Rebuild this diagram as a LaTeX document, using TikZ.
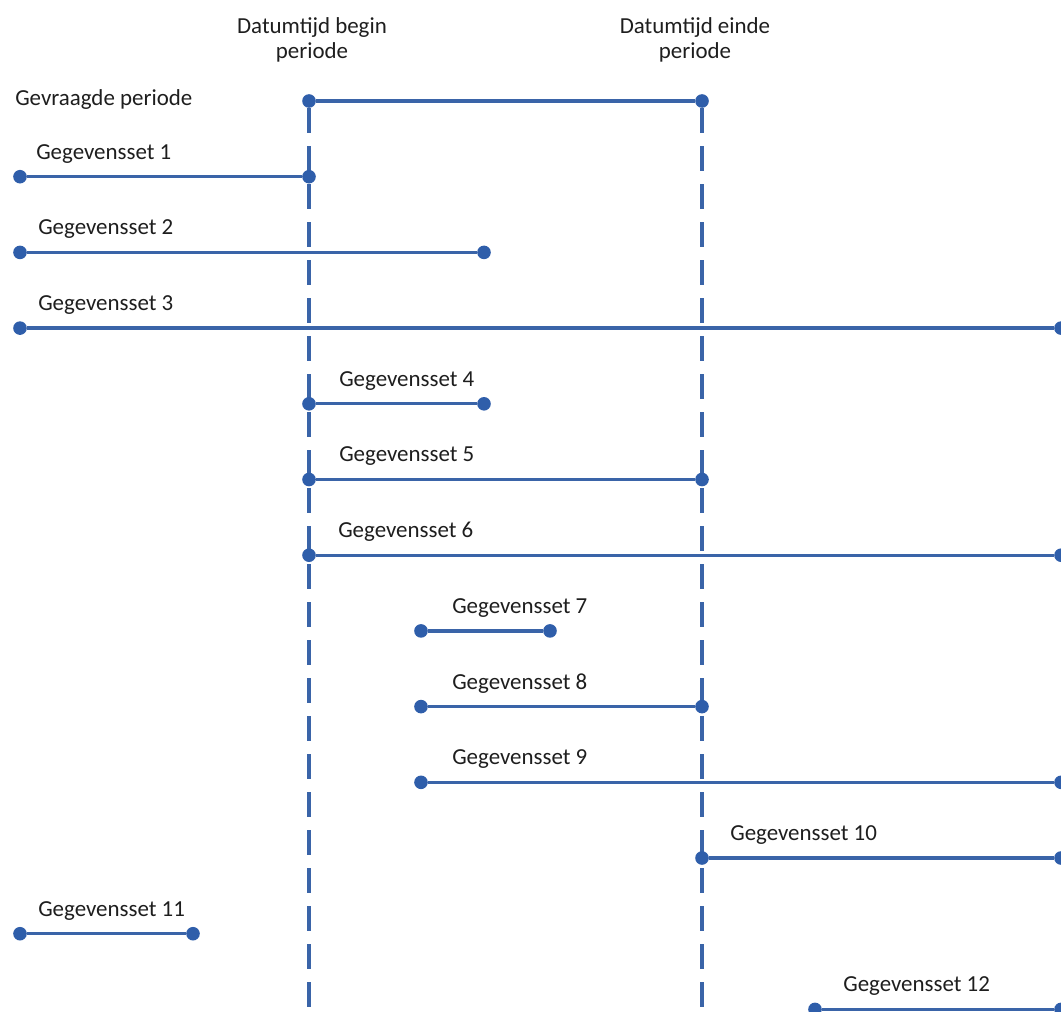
\documentclass[tikz,border=0pt]{standalone}
\usepackage{fontspec}
\setmainfont{Carlito}
\usetikzlibrary{backgrounds}
\definecolor{puntblauw}{HTML}{2F5EAA}
\definecolor{lijnblauw}{HTML}{3A64A8}
\definecolor{tekstgrijs}{HTML}{1E1E1E}

\begin{document}
\begin{tikzpicture}[x=0.025cm,y=-0.025cm,
		punt/.style={circle,fill=puntblauw,inner sep=0pt,minimum size=0.34cm},
		lijn/.style={lijnblauw,line width=2.4pt},
		grens/.style={lijnblauw,line width=2.4pt,dash pattern=on 0.62cm off 0.33cm},
		tekst/.style={anchor=west,inner sep=0pt,text=tekstgrijs,font=\fontsize{16.3}{17}\selectfont},
		kop/.style={align=center,inner sep=0pt,text=tekstgrijs,font=\fontsize{16.3}{17.5}\selectfont}]
		\useasboundingbox (0,0) rectangle (1061,1012);
		
		\newcommand{\gegevensset}[4][30]{\node[punt] (b#2) at (#3,101+75.7*#2) {};
			\node[punt] (e#2) at (#4,101+75.7*#2) {};
			\node[tekst] (t#2) at (#3+#1,101+75.7*#2-23) {Gegevensset #2};
			\begin{scope}[on background layer]
				\draw[lijn] (b#2) -- (e#2);
			\end{scope}}
		
		\node[kop] (kopbegin) at (312,40) {Datumtijd begin\\periode};
		\node[kop] (kopeinde) at (695,40) {Datumtijd einde\\periode};
		
		\node[tekst] (gevraagd) at (15,100) {Gevraagde periode};
		\node[punt] (begin) at (309,101) {};
		\node[punt] (einde) at (702,101) {};
		\coordinate (beginvoet) at (309,1012);
		\coordinate (eindevoet) at (702,1012);
		
		\gegevensset[16]{1}{20}{309}
		\gegevensset[18]{2}{20}{484}
		\gegevensset[18]{3}{20}{1061}
		\gegevensset{4}{309}{484}
		\gegevensset{5}{309}{702}
		\gegevensset[29]{6}{309}{1061}
		\gegevensset[31]{7}{421}{550}
		\gegevensset[31]{8}{421}{702}
		\gegevensset[31]{9}{421}{1061}
		\gegevensset[28]{10}{702}{1061}
		\gegevensset[18]{11}{20}{193}
		\gegevensset[28]{12}{815}{1061}
		
		\begin{scope}[on background layer]
			\draw[lijn] (begin) -- (einde);
			\draw[grens] (begin) -- (beginvoet);
			\draw[grens] (einde) -- (eindevoet);
		\end{scope}
	\end{tikzpicture}
\end{document}
